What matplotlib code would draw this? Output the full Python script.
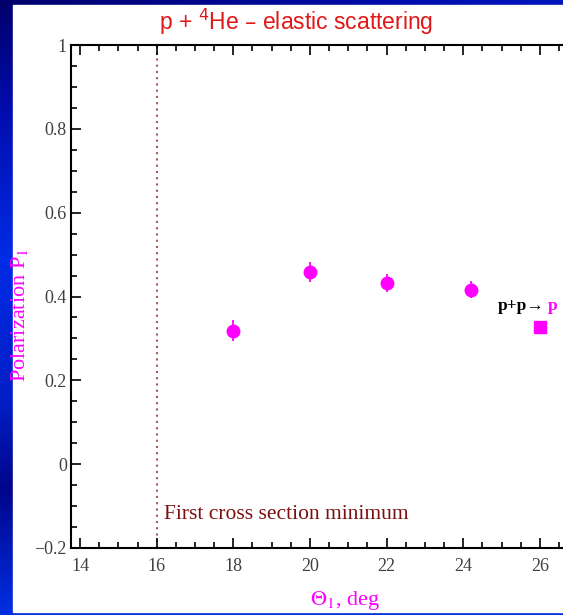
import numpy as np
import matplotlib
matplotlib.use("Agg")
import matplotlib.pyplot as plt
from matplotlib.ticker import MultipleLocator
from matplotlib.colors import LinearSegmentedColormap

# Data
theta = [18.0, 20.0, 22.0, 24.2]
polar = [0.318, 0.458, 0.432, 0.416]
polar_err = [0.025, 0.024, 0.022, 0.020]
pp_theta = [26.0]
pp_polar = [0.327]
minimum_theta = 16.0
x_ticks = [14, 16, 18, 20, 22, 24, 26]
y_ticks = [-0.2, 0, 0.2, 0.4, 0.6, 0.8, 1]
y_ticklabels = ["\u22120.2", "0", "0.2", "0.4", "0.6", "0.8", "1"]

W, H = 563, 615
fig = plt.figure(figsize=(W / 100, H / 100), dpi=100)

# background gradient
bg = fig.add_axes([0, 0, 1, 1])
bg.set_axis_off()
cmap = LinearSegmentedColormap.from_list(
    "bgblue",
    [(0.0, (0.0, 0.0, 0.42)), (0.18, (0.0, 0.05, 0.68)), (0.42, (0.0, 0.17, 0.9)),
     (0.65, (0.0, 0.12, 0.78)), (0.8, (0.0, 0.02, 0.55)), (1.0, (0.0, 0.18, 0.88))])
yy = np.linspace(0, 1, 300)[:, None]
xx = np.linspace(0, 1, 300)[None, :]
grad = np.clip(yy + 0.25 * xx, 0, 1)
bg.imshow(grad, cmap=cmap, aspect="auto", extent=[0, 1, 1, 0])
bg.set_xlim(0, 1)
bg.set_ylim(1, 0)
bg.add_patch(plt.Rectangle((13 / W, 5 / H), 1, (612 - 5) / H, color="white", zorder=2))

# main axes
x_left_px, x_right_px = 71, 563
y_top_px, y_bot_px = 45, 548
ax = fig.add_axes([x_left_px / W, 1 - y_bot_px / H,
                   (x_right_px - x_left_px) / W, (y_bot_px - y_top_px) / H])
ax.set_facecolor("none")
px_per_deg = (540 - 80) / 12.0
ax.set_xlim(14 - (80 - x_left_px) / px_per_deg, 14 + (x_right_px - 80) / px_per_deg)
ax.set_ylim(-0.2, 1.0)

for s in ["left", "bottom", "top"]:
    ax.spines[s].set_linewidth(1.5)
    ax.spines[s].set_color("black")
ax.spines["right"].set_visible(False)

ax.set_xticks(x_ticks)
ax.set_yticks(y_ticks)
ax.set_yticklabels(y_ticklabels)
ax.xaxis.set_minor_locator(MultipleLocator(0.5))
ax.yaxis.set_minor_locator(MultipleLocator(0.05))
ax.tick_params(which="both", direction="in", top=True, right=False, color="black", width=1.2)
ax.tick_params(which="major", length=7)
ax.tick_params(which="minor", length=4)
ax.tick_params(axis="x", which="major", pad=7)
ax.tick_params(axis="y", which="major", pad=3)
for lab in ax.get_xticklabels() + ax.get_yticklabels():
    lab.set_family("Liberation Serif")
    lab.set_fontsize(13)
    lab.set_color("#404040")

# vertical dotted line
ax.axvline(minimum_theta, color="#a05a5a", linestyle=(0, (1, 2)), linewidth=1.5, zorder=1)

# data
ax.errorbar(theta, polar, yerr=polar_err, fmt="o", color="#ff00ff", markersize=9,
            elinewidth=1.3, capsize=0, zorder=3, clip_on=False)
ax.plot(pp_theta, pp_polar, "s", color="#ff00ff", markersize=8, zorder=3)

ax.text(16.2, -0.12, "First cross section minimum", family="Liberation Serif",
        fontsize=15.5, color="#7a1010", va="center", ha="left")

t1 = ax.text(24.9, 0.378, "p+p\u2192", family=["Liberation Serif", "DejaVu Sans"],
             fontsize=12.5, fontweight="bold", color="black", va="center", ha="left")
fig.canvas.draw()
bb = t1.get_window_extent()
ax.annotate("p", xy=(bb.x1 + 3, (bb.y0 + bb.y1) / 2), xycoords="figure pixels",
            family="Liberation Serif", fontsize=12.5, fontweight="bold", color="#ff00ff",
            va="center", ha="left", annotation_clip=False)

# labels
fig.text(296 / W, 1 - 22 / H, "p + $^{4}$He \u2013 elastic scattering", family="Liberation Sans",
         fontsize=16.5, color="#e01818", ha="center", va="center")
fig.text(345 / W, 1 - 600 / H, r"$\Theta_1$, deg", family="Liberation Serif",
         fontsize=16, color="#ff00ff", ha="center", va="center", math_fontfamily="stix")
fig.text(20 / W, 1 - 315 / H, r"Polarization P$_1$", family="Liberation Serif",
         fontsize=16, color="#ff00ff", ha="center", va="center", rotation=90,
         math_fontfamily="stix")

fig.savefig("out.png", dpi=100)
